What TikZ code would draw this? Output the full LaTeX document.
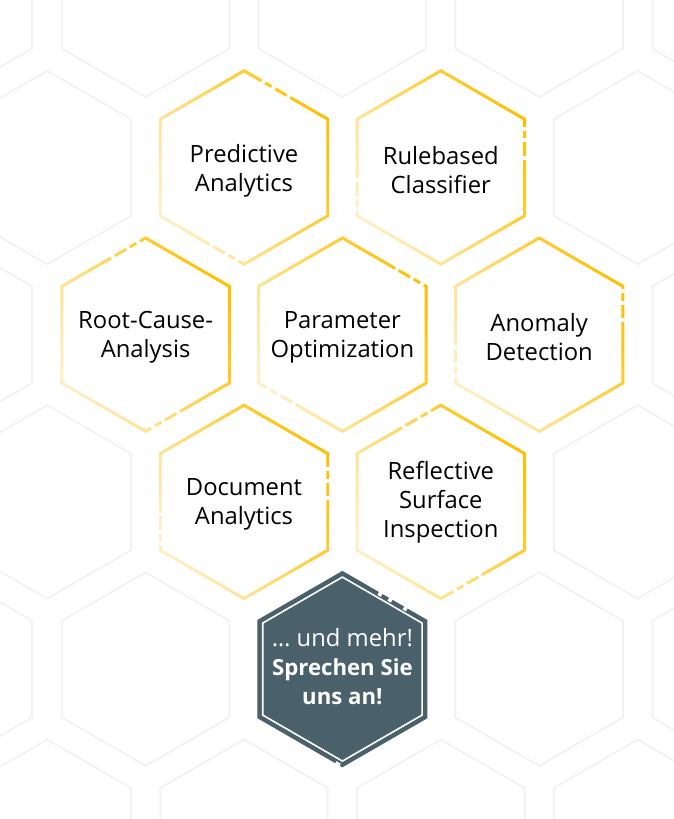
\documentclass[tikz,border=0pt]{standalone}
\usepackage{fontspec}
\setmainfont{Open Sans}
\usetikzlibrary{calc}
\definecolor{honey}{RGB}{255,192,0}
\definecolor{honeypale}{RGB}{255,238,196}
\definecolor{slate}{RGB}{74,97,107}
\definecolor{gridgray}{RGB}{240,242,245}
\tikzset{
    every node/.style={align=center, font=\fontsize{23.8}{29}\selectfont}
}
\tikzset{
    ring/.style={even odd rule, top color=honey, bottom color=honeypale,
    	shading angle=-60},
    gridhex/.style={draw=gridgray, line width=2pt},
    gap/.style={draw=white, line width=4pt}
}
\newcommand\hexat[2]{($(#1)+(90:#2)$) -- ($(#1)+(30:#2)$) -- ($(#1)+(-30:#2)$)
	-- ($(#1)+(-90:#2)$) -- ($(#1)+(-150:#2)$) -- ($(#1)+(150:#2)$) -- cycle}
\newcommand\hexbreak[4]{
	\coordinate (p) at ($(#1)+(#2:96.7)$);
	\coordinate (q) at ($(#1)+(#3:96.7)$);
	\foreach \f in {0,0.12,0.30}
		\draw[gap] ($(p)!#4+\f!(q)$) -- ($(p)!#4+\f+0.04!(q)$);
}
\newcommand\boldline[1]{{\fontsize{22.2}{29}\selectfont\bfseries #1}}
\pgfdeclarelayer{background}
\pgfsetlayers{background,main}

\begin{document}
\begin{tikzpicture}[x=1pt, y=1pt]
	\useasboundingbox (0,0) rectangle (673,819);
	\node (1) at (244.0, 648.5) {Predictive\\Analytics};
	\node (2) at (440.8, 648.5) {Rulebased\\Classifier};
	\node (3) at (145.6, 481.8) {Root-Cause-\\Analysis};
	\node (4) at (342.4, 481.8) {Parameter\\Optimization};
	\node (5) at (539.2, 481.8) {Anomaly\\Detection};
	\node (6) at (244.0, 314.6) {Document\\Analytics};
	\node (7) at (440.8, 317.1) {Reflective\\Surface\\Inspection};
	\node (8) [text=white] at (342.4, 151.9) {… und mehr!\\\boldline{Sprechen Sie}\\\boldline{uns an!}};
	
	\begin{pgfonlayer}{background}
		\foreach \y in {818.7, 484.3, 149.9}
			\foreach \x in {-51.6, 145.6, 342.4, 539.2, 736.0}
				\draw[gridhex] \hexat{\x,\y}{96.7};
		\foreach \y in {651.5, 317.1, -17.3}
			\foreach \x in {47.2, 244.0, 440.8, 637.6}
				\draw[gridhex] \hexat{\x,\y}{96.7};
		\fill[slate] \hexat{342.4,149.9}{98.2};
	\end{pgfonlayer}
	
	\foreach \c in {{244.0,651.5}, {440.8,651.5}, {145.6,484.3}, {342.4,484.3},
		{539.2,484.3}, {244.0,317.1}, {440.8,317.1}}
		\shade[ring] \hexat{\c}{98.4} \hexat{\c}{95.0};
	\draw[white, line width=1.6pt] \hexat{342.4,149.9}{92.0};
	
	\coordinate (a) at (244.0,651.5); \coordinate (b) at (440.8,651.5);
	\coordinate (c) at (145.6,484.3); \coordinate (d) at (342.4,484.3);
	\coordinate (e) at (539.2,484.3); \coordinate (f) at (244.0,317.1);
	\coordinate (g) at (440.8,317.1); \coordinate (h) at (342.4,149.9);
	\hexbreak{a}{90}{30}{0.21}; \hexbreak{a}{-90}{-150}{0.07};
	\hexbreak{b}{30}{-30}{0.08}; \hexbreak{b}{-150}{150}{0.05};
	\hexbreak{c}{90}{150}{0.07}; \hexbreak{c}{-90}{-30}{0.07};
	\hexbreak{d}{30}{90}{0.03}; \hexbreak{d}{-150}{-90}{0.10};
	\hexbreak{e}{30}{-30}{0.03}; \hexbreak{e}{-150}{150}{0.05};
	\hexbreak{f}{30}{-30}{0.14}; \hexbreak{f}{-150}{150}{0.05};
	\hexbreak{g}{90}{150}{0.12}; \hexbreak{g}{-90}{-30}{0.15};
	\hexbreak{h}{90}{30}{0.43};
	\coordinate (r) at ($(h)+(-90:97.5)$);
	\coordinate (s) at ($(h)+(-150:97.5)$);
	\draw[white, line width=3.5pt] ($(r)!0.03!(s)$) -- ($(r)!0.08!(s)$);
\end{tikzpicture}
\end{document}
